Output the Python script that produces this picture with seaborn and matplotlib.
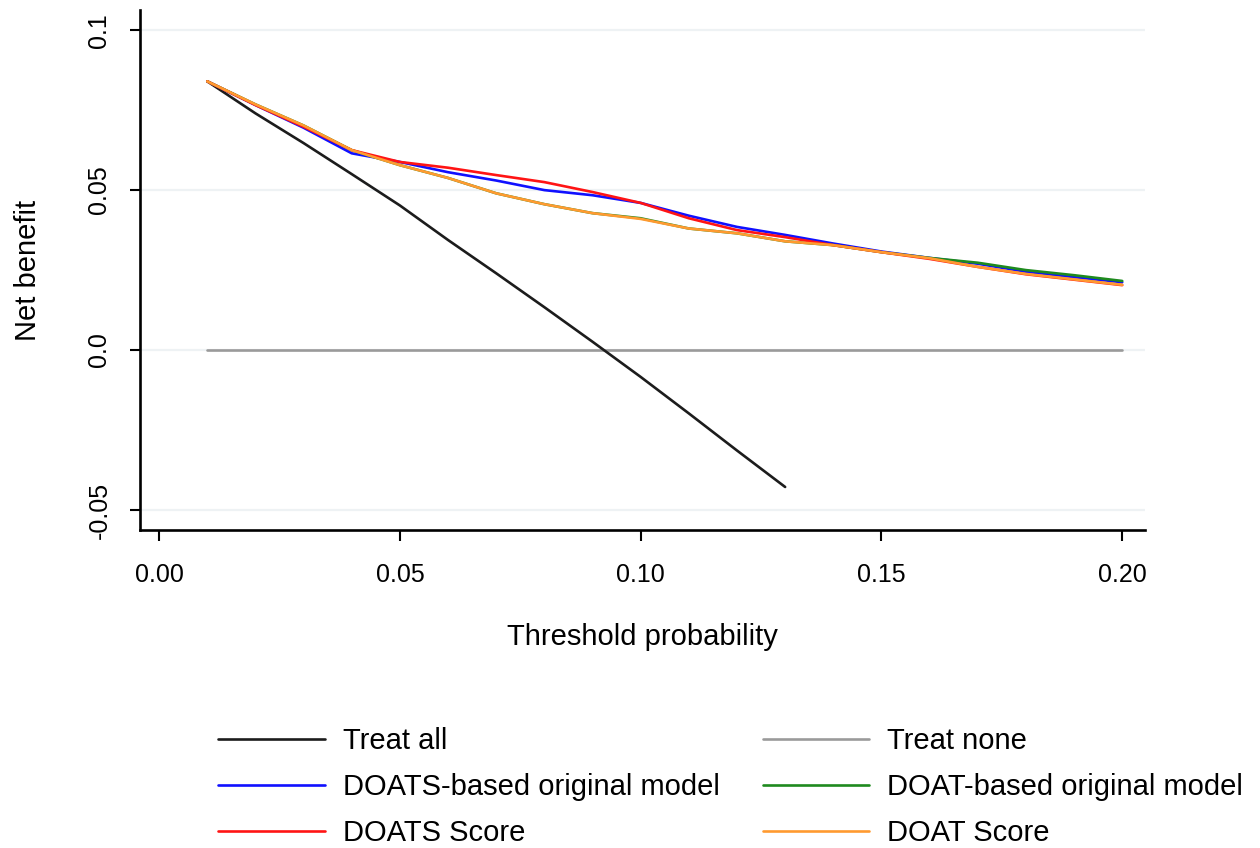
import numpy as np
import pandas as pd
import matplotlib
matplotlib.use("Agg")
import matplotlib.pyplot as plt
import seaborn as sns

# threshold probabilities
thresholds = [0.01, 0.02, 0.03, 0.04, 0.05, 0.06, 0.07, 0.08, 0.09, 0.10,
              0.11, 0.12, 0.13, 0.14, 0.15, 0.16, 0.17, 0.18, 0.19, 0.20]

treat_all = [0.084, 0.074, 0.0647, 0.055, 0.0452, 0.0344, 0.024, 0.0134,
             0.0026, -0.0084, -0.0198, -0.0314, -0.0428]
treat_none = [0.0] * 20
doats_model = [0.084, 0.0766, 0.0695, 0.0615, 0.0588, 0.0556, 0.053, 0.050,
               0.0484, 0.046, 0.042, 0.0385, 0.036, 0.0333, 0.0308, 0.0288,
               0.027, 0.0245, 0.0228, 0.0212]
doat_model = [0.084, 0.0768, 0.0702, 0.0625, 0.0578, 0.0538, 0.049, 0.0456,
              0.0428, 0.0412, 0.038, 0.0365, 0.034, 0.0328, 0.0306, 0.0288,
              0.0273, 0.025, 0.0234, 0.0216]
doats_score = [0.084, 0.0766, 0.0698, 0.0625, 0.0588, 0.057, 0.0547, 0.0525,
               0.0494, 0.046, 0.0412, 0.0375, 0.0353, 0.0328, 0.0306, 0.0285,
               0.026, 0.0237, 0.022, 0.0203]
doat_score = [0.084, 0.0768, 0.0702, 0.0625, 0.0578, 0.0538, 0.049, 0.0456,
              0.0428, 0.041, 0.038, 0.0365, 0.034, 0.0328, 0.0306, 0.0287,
              0.026, 0.0238, 0.0221, 0.0204]

series = {
    "Treat all": treat_all,
    "Treat none": treat_none,
    "DOATS-based original model": doats_model,
    "DOAT-based original model": doat_model,
    "DOATS Score": doats_score,
    "DOAT Score": doat_score,
}
colors = {
    "Treat all": "#1c1c1c",
    "Treat none": "#9a9a9a",
    "DOATS-based original model": "#1010ff",
    "DOAT-based original model": "#1e8a1e",
    "DOATS Score": "#ff1414",
    "DOAT Score": "#ff9a30",
}

rows = []
for name, vals in series.items():
    for t, v in zip(thresholds, vals):
        rows.append({"threshold": t, "net_benefit": v, "model": name})
df = pd.DataFrame(rows)

sns.set_style("white")
plt.rcParams["font.family"] = ["Liberation Sans", "DejaVu Sans"]
plt.rcParams["text.color"] = "black"
plt.rcParams["axes.labelcolor"] = "black"
plt.rcParams["xtick.color"] = "black"
plt.rcParams["ytick.color"] = "black"

fig = plt.figure(figsize=(12.6, 8.48), dpi=100)
ax = fig.add_axes([0.111, 0.375, 0.798, 0.613])

for y in [-0.05, 0.0, 0.05, 0.1]:
    ax.axhline(y, color="#eef2f4", lw=1.6, zorder=0)

draw_order = ["Treat none", "Treat all", "DOATS-based original model",
              "DOAT-based original model", "DOATS Score", "DOAT Score"]
for name in draw_order:
    sub = df[df.model == name]
    sns.lineplot(data=sub, x="threshold", y="net_benefit", color=colors[name],
                 lw=1.9, ax=ax, label=name, legend=False)

ax.set_xlim(-0.004, 0.2048)
ax.set_ylim(-0.05625, 0.10625)
ax.set_xticks([0.0, 0.05, 0.10, 0.15, 0.20])
ax.set_xticklabels(["0.00", "0.05", "0.10", "0.15", "0.20"])
ax.set_yticks([-0.05, 0.0, 0.05, 0.1])
ax.set_yticklabels(["-0.05", "0.0", "0.05", "0.1"])

for s in ["top", "right"]:
    ax.spines[s].set_visible(False)
for s in ["left", "bottom"]:
    ax.spines[s].set_linewidth(1.9)
    ax.spines[s].set_color("black")

ax.tick_params(axis="x", direction="out", length=8, width=1.5, labelsize=18,
               pad=16, bottom=True)
ax.tick_params(axis="y", direction="out", length=7, width=1.5, labelsize=18,
               pad=13.5, left=True, labelrotation=90)
for lab in ax.get_yticklabels():
    lab.set_va("center")

ax.set_xlabel("Threshold probability", fontsize=21, labelpad=26)
ax.set_ylabel("Net benefit", fontsize=21, labelpad=33)

handles, labels = ax.get_legend_handles_labels()
hmap = dict(zip(labels, handles))
leg_order = ["Treat all", "DOATS-based original model", "DOATS Score",
             "Treat none", "DOAT-based original model", "DOAT Score"]
fig.legend([hmap[k] for k in leg_order], leg_order, loc="upper left",
           bbox_to_anchor=(218 / 1260, 1 - 727 / 848), ncol=2, frameon=False,
           fontsize=21, handlelength=3.66, handletextpad=0.62,
           columnspacing=1.47, labelspacing=0.62, borderpad=0,
           borderaxespad=0)

fig.savefig("out.png", dpi=100)
